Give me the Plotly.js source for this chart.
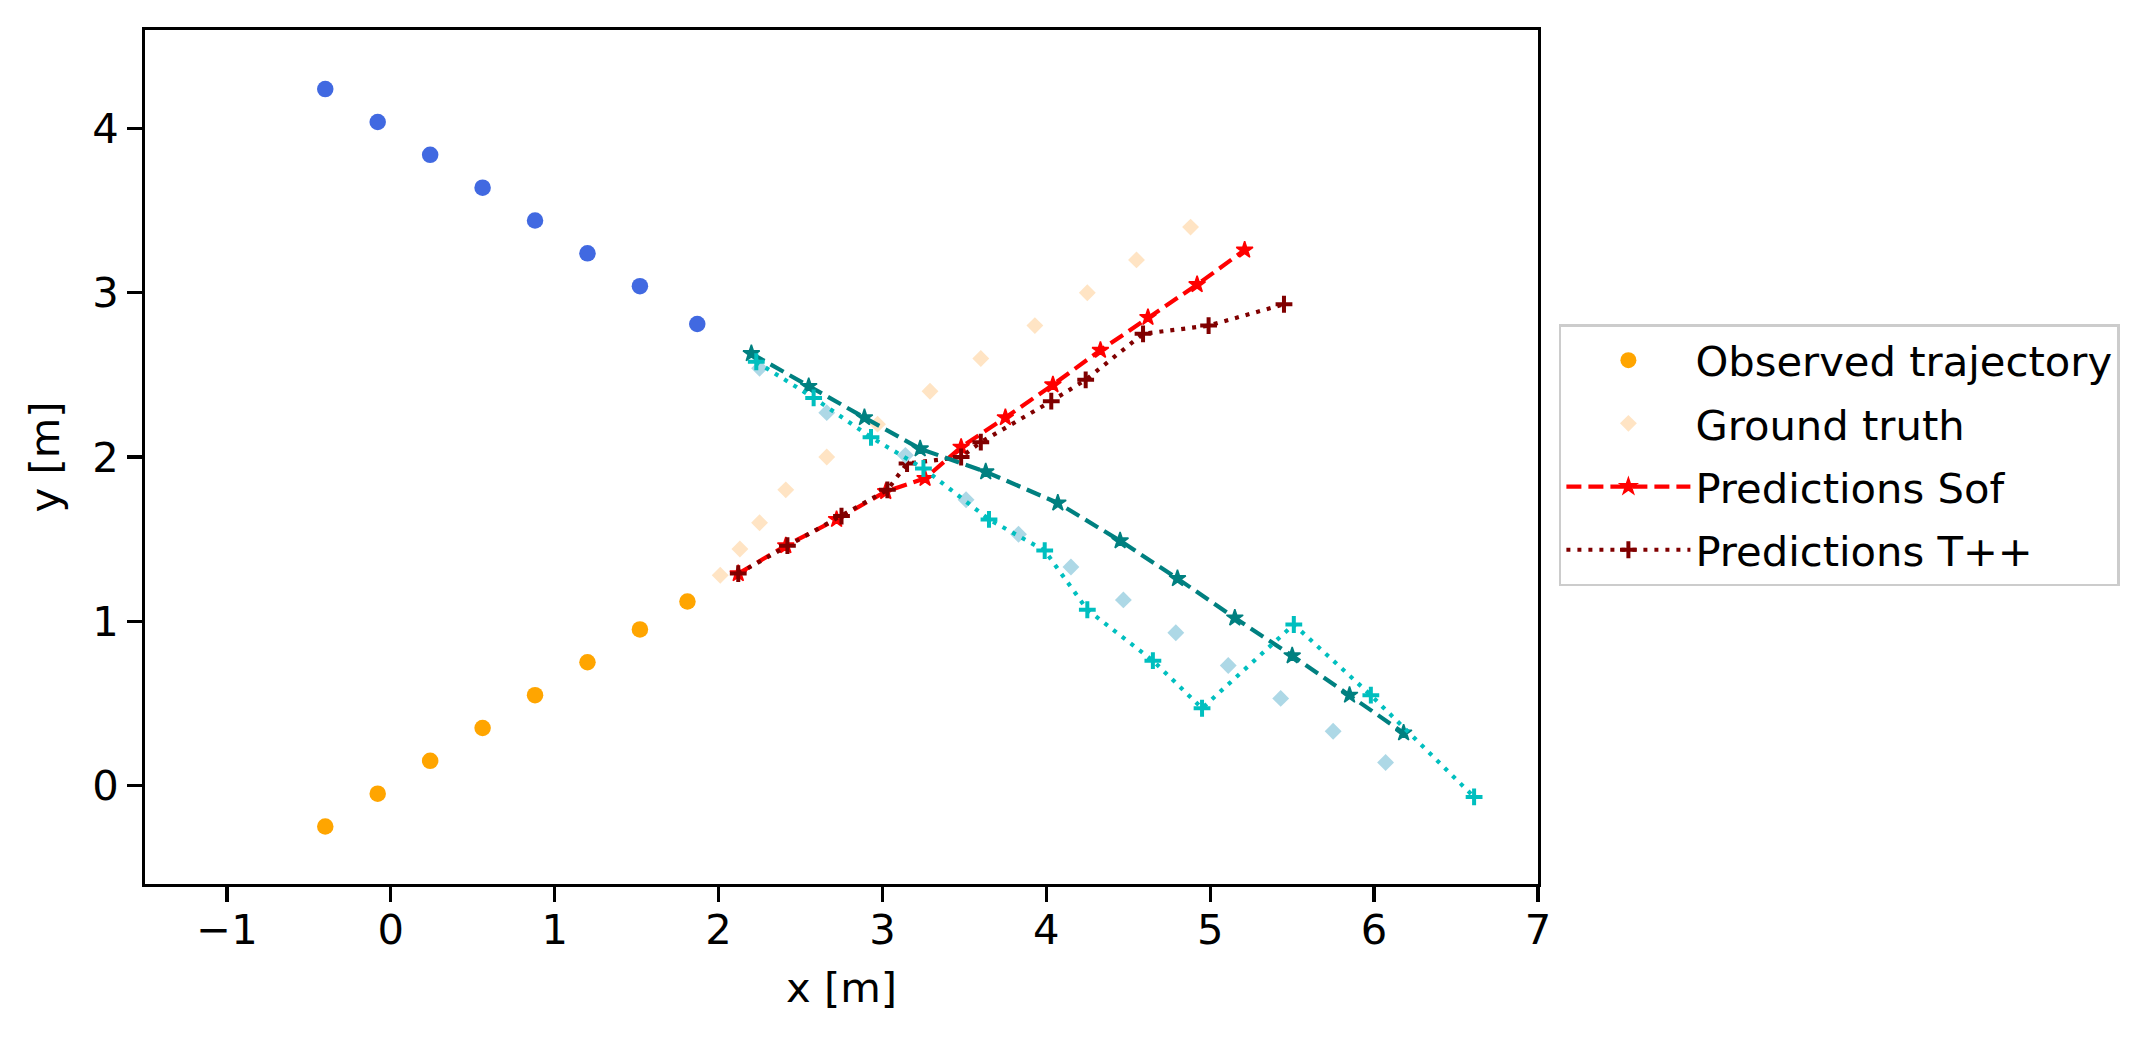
<!DOCTYPE html>
<html>
<head>
<meta charset="utf-8">
<script src="https://cdn.plot.ly/plotly-3.0.1.min.js"></script>
<style>html,body{margin:0;padding:0;background:#fff;}#chart{width:2156px;height:1043px;}</style>
</head>
<body>
<div id="chart"></div>
<script>
// Pedestrian A (labelled in legend)
const obsA_x = [-0.40, -0.08, 0.24, 0.56, 0.88, 1.20, 1.52, 1.81];
const obsA_y = [-0.25, -0.05, 0.15, 0.35, 0.55, 0.75, 0.95, 1.12];
const gtA_x = [2.01, 2.13, 2.25, 2.41, 2.66, 2.97, 3.29, 3.60, 3.93, 4.25, 4.55, 4.88];
const gtA_y = [1.28, 1.44, 1.60, 1.80, 2.00, 2.20, 2.40, 2.60, 2.80, 3.00, 3.20, 3.40];
const sofA_x = [2.12, 2.41, 2.72, 3.02, 3.26, 3.48, 3.75, 4.04, 4.33, 4.62, 4.92, 5.21];
const sofA_y = [1.29, 1.46, 1.62, 1.79, 1.87, 2.06, 2.24, 2.44, 2.65, 2.85, 3.05, 3.26];
const tppA_x = [2.12, 2.42, 2.75, 3.03, 3.15, 3.48, 3.60, 4.03, 4.24, 4.59, 4.99, 5.45];
const tppA_y = [1.29, 1.46, 1.64, 1.80, 1.96, 2.00, 2.09, 2.34, 2.47, 2.75, 2.80, 2.93];

// Pedestrian B
const obsB_x = [-0.40, -0.08, 0.24, 0.56, 0.88, 1.20, 1.52, 1.87];
const obsB_y = [4.24, 4.04, 3.84, 3.64, 3.44, 3.24, 3.04, 2.81];
const gtB_x = [2.25, 2.66, 3.14, 3.51, 3.83, 4.15, 4.47, 4.79, 5.11, 5.43, 5.75, 6.07];
const gtB_y = [2.54, 2.27, 2.01, 1.74, 1.53, 1.33, 1.13, 0.93, 0.73, 0.53, 0.33, 0.14];
const sofB_x = [2.20, 2.55, 2.89, 3.23, 3.63, 4.07, 4.45, 4.80, 5.15, 5.50, 5.85, 6.18];
const sofB_y = [2.63, 2.43, 2.24, 2.05, 1.91, 1.72, 1.49, 1.26, 1.02, 0.79, 0.55, 0.32];
const tppB_x = [2.23, 2.58, 2.93, 3.25, 3.65, 3.99, 4.25, 4.65, 4.95, 5.51, 5.98, 6.61];
const tppB_y = [2.58, 2.36, 2.12, 1.93, 1.62, 1.43, 1.07, 0.76, 0.47, 0.98, 0.55, -0.07];

const xTicks = [-1, 0, 1, 2, 3, 4, 5, 6, 7];
const yTicks = [0, 1, 2, 3, 4];
const names = ['Observed trajectory', 'Ground truth', 'Predictions Sof', 'Predictions T++'];

const FONT = 'DejaVu Sans, sans-serif';
const FS = 41.7;
const DASH = '15px,7px';
const DOT = '4px,7px';

function obs(x, y, color, name, show) {
  return {x, y, type: 'scatter', mode: 'markers', name, showlegend: show, legendgroup: name,
    marker: {symbol: 'circle', size: 16.5, color, line: {width: 0}}};
}
function gt(x, y, color, name, show) {
  return {x, y, type: 'scatter', mode: 'markers', name, showlegend: show, legendgroup: name,
    marker: {symbol: 'diamond', size: 13, color, line: {width: 0}}};
}
function sof(x, y, color, name, show) {
  return {x, y, type: 'scatter', mode: 'lines+markers', name, showlegend: show, legendgroup: name,
    line: {color, width: 4.2, dash: DASH},
    marker: {symbol: 'star', size: 12.5, color, line: {color, width: 1.5}}};
}
function tpp(x, y, color, name, show) {
  return {x, y, type: 'scatter', mode: 'lines+markers', name, showlegend: show, legendgroup: name,
    line: {color, width: 4.2, dash: DOT},
    marker: {symbol: 'cross-thin', size: 12, color, line: {color, width: 4}}};
}

const data = [
  obs(obsA_x, obsA_y, '#FFA500', names[0], true),
  gt(gtA_x, gtA_y, '#FFE4C4', names[1], true),
  sof(sofA_x, sofA_y, '#FF0000', names[2], true),
  tpp(tppA_x, tppA_y, '#800000', names[3], true),
  obs(obsB_x, obsB_y, '#4169E1', 'obsB', false),
  gt(gtB_x, gtB_y, '#ADD8E6', 'gtB', false),
  sof(sofB_x, sofB_y, '#008080', 'sofB', false),
  tpp(tppB_x, tppB_y, '#00BFBF', 'tppB', false)
];

const axisCommon = {
  showgrid: false, zeroline: false, showline: true, mirror: true,
  linecolor: 'black', linewidth: 3.3, ticks: 'outside', ticklen: 14.6,
  tickwidth: 3.3, tickcolor: 'black', tickfont: {family: FONT, size: FS, color: 'black'}
};

const layout = {
  width: 2156, height: 1043,
  margin: {l: 145, r: 618, t: 30, b: 159, pad: 0},
  paper_bgcolor: 'white', plot_bgcolor: 'white',
  font: {family: FONT, size: FS, color: 'black'},
  showlegend: true,
  xaxis: Object.assign({}, axisCommon, {
    range: [-1.5, 7], tickmode: 'array', tickvals: xTicks, ticktext: xTicks.map(v => v < 0 ? '\u2212' + Math.abs(v) : String(v)),
    ticklabelstandoff: -8,
    title: {text: 'x [m]', standoff: 21, font: {family: FONT, size: FS, color: 'black'}}
  }),
  yaxis: Object.assign({}, axisCommon, {
    range: [-0.6, 4.6], tickmode: 'array', tickvals: yTicks, ticktext: yTicks.map(String),
    title: {text: 'y [m]', standoff: 20, font: {family: FONT, size: FS, color: 'black'}}
  }),
  legend: {
    x: 1.015, y: 0.6557, xanchor: 'left', yanchor: 'top',
    bgcolor: 'white', bordercolor: '#cccccc', borderwidth: 2.5,
    font: {family: FONT, size: FS, color: 'black'},
    tracegroupgap: 6, itemwidth: 124
  }
};

Plotly.newPlot('chart', data, layout, {staticPlot: true, displayModeBar: false});
</script>
</body>
</html>
